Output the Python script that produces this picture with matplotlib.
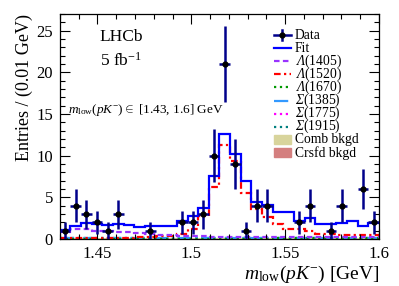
import numpy as np
import matplotlib
matplotlib.use("Agg")
import matplotlib.pyplot as plt
from matplotlib.patches import Rectangle

plt.rcParams['font.family'] = ['Liberation Serif', 'DejaVu Serif']
plt.rcParams['mathtext.fontset'] = 'custom'
plt.rcParams['mathtext.rm'] = 'Liberation Serif'
plt.rcParams['mathtext.it'] = 'Liberation Serif:italic'
plt.rcParams['mathtext.bf'] = 'Liberation Serif:bold'
# italic greek capitals through the sf slot
plt.rcParams['mathtext.sf'] = 'Liberation Serif:italic'

# binning: 30 bins between 1.43 and 1.6 GeV
lo, hi, nbins = 1.43, 1.6, 30
edges = np.linspace(lo, hi, nbins + 1)
centers = 0.5 * (edges[1:] + edges[:-1])

data = [1, 4, 3, 2, 1, 3, 0, 0, 1, 0, 0, 2, 2, 3, 10, 21, 9, 1, 4, 4,
        0, 0, 2, 4, 0, 1, 4, 0, 6, 2]
fit = [1.1, 1.6, 1.9, 1.8, 1.75, 1.8, 1.75, 1.5, 1.6, 1.6, 1.6, 2.2, 2.8, 3.7,
       7.6, 12.6, 10.2, 7.0, 4.4, 4.1, 3.2, 3.2, 2.2, 2.5, 1.8, 1.8, 1.9, 2.2,
       1.6, 1.9]
lam1405 = [0.9, 1.2, 1.2, 1.0, 1.0, 0.8, 0.8, 0.7, 0.6, 0.5, 0.45, 0.4, 0.35,
           0.35, 0.3, 0.3, 0.3, 0.3, 0.3, 0.3, 0.3, 0.25, 0.25, 0.25, 0.25,
           0.25, 0.25, 0.25, 0.2, 0.2]
lam1520 = [0.1, 0.1, 0.1, 0.1, 0.1, 0.15, 0.15, 0.2, 0.25, 0.35, 0.4, 0.6, 1.2,
           2.8, 6.3, 11.3, 9.4, 5.5, 3.6, 2.6, 1.8, 1.2, 1.2, 1.0, 0.6, 0.6,
           0.5, 0.5, 0.5, 0.5]
lam1670 = [0.05] * 20 + [0.08] * 10
sig1385 = [0.15] * 10 + [0.12] * 10 + [0.1] * 10
sig1775 = [0.06] * 30
sig1915 = [0.08] * 30
comb = [0.12] * 30
crsfd = [0.06] * 30

# (label, colour, linestyle) for the line components
components = [
    ('Fit', '#0000ff', '-', fit),
    (r'$\mathsf{\Lambda}$(1405)', '#9933ff', (0, (2.5, 1.5)), lam1405),
    (r'$\mathsf{\Lambda}$(1520)', '#ff0000', (0, (3, 1.5, 1, 1.5)), lam1520),
    (r'$\mathsf{\Lambda}$(1670)', '#009900', ':', lam1670),
    (r'$\mathsf{\Sigma}$(1385)', '#3399ff', '-.', sig1385),
    (r'$\mathsf{\Sigma}$(1775)', '#ff00ff', ':', sig1775),
    (r'$\mathsf{\Sigma}$(1915)', '#007f7f', ':', sig1915),
]
fills = [('Comb bkgd', '#d8d49c'), ('Crsfd bkgd', '#d47f7f')]

fig = plt.figure(figsize=(3.99, 2.86), dpi=100)
ax = fig.add_axes([0.150, 0.164, 0.800, 0.787])

# filled backgrounds
ax.stairs(np.array(comb) + np.array(crsfd), edges, fill=True, color=fills[0][1])
ax.stairs(crsfd, edges, fill=True, color=fills[1][1])

for lab, col, ls, vals in components[::-1]:
    ax.stairs(vals, edges, baseline=None, color=col, linestyle=ls, lw=1.6)

d = np.array(data, dtype=float)
m = d > 0
ax.errorbar(centers[m], d[m], yerr=np.sqrt(d[m]),
            xerr=(hi - lo) / nbins / 2, fmt='o', ms=3.5, mfc='black',
            mec='black', ecolor='#00008b', elinewidth=1.8, capsize=0,
            zorder=5)

ax.set_xlim(lo, hi)
ax.set_ylim(0, 27)
ax.set_xticks([1.45, 1.5, 1.55, 1.6])
ax.set_xticklabels(['1.45', '1.5', '1.55', '1.6'])
ax.set_xticks(np.arange(1.43, 1.6001, 0.01), minor=True)
ax.set_yticks([0, 5, 10, 15, 20, 25])
ax.set_yticks(np.arange(0, 27.5, 1), minor=True)
ax.tick_params(which='both', direction='in', top=True, right=True,
               labelsize=12, width=0.8, pad=5)
ax.tick_params(which='major', length=7)
ax.tick_params(which='minor', length=3.5)
for s in ax.spines.values():
    s.set_linewidth(0.9)

ax.set_ylabel('Entries / (0.01 GeV)', fontsize=13, labelpad=2, loc='top')
ax.set_xlabel(r'$m_{\rm low}(pK^{-})$ [GeV]', fontsize=14, loc='right',
              labelpad=1)

ax.text(0.125, 0.88, 'LHCb', transform=ax.transAxes, fontsize=12.5)
ax.text(0.125, 0.77, r'5 fb$^{\mathregular{-1}}$', transform=ax.transAxes,
        fontsize=12.5)
ax.text(0.025, 0.56, r'$m_{\rm low}(pK^{-}) \in$ [1.43, 1.6] GeV',
        transform=ax.transAxes, fontsize=9.5)

# legend drawn by hand, ROOT style rows
x0, x1, xt = 0.671, 0.724, 0.736
row_y = [(239 - (35 + 13.1 * i)) / 225 for i in range(10)]
tr = ax.transAxes
xm = 0.5 * (x0 + x1)
ax.plot([x0, x1], [row_y[0]] * 2, color='#00008b', lw=1.8, transform=tr,
        clip_on=False)
ax.plot([xm, xm], [row_y[0] - 0.022, row_y[0] + 0.022], color='#00008b',
        lw=1.8, transform=tr, clip_on=False)
ax.plot([xm], [row_y[0]], 'o', ms=3.5, color='black', transform=tr,
        clip_on=False)
ax.text(xt, row_y[0], 'Data', transform=tr, fontsize=9.8, va='center')
for i, (lab, col, ls, vals) in enumerate(components, start=1):
    ax.plot([x0, x1], [row_y[i]] * 2, color=col, linestyle=ls, lw=1.6,
            transform=tr, clip_on=False)
    ax.text(xt, row_y[i], lab, transform=tr, fontsize=9.8, va='center')
for i, (lab, col) in enumerate(fills, start=8):
    ax.add_patch(Rectangle((x0, row_y[i] - 0.02), x1 - x0, 0.04, color=col,
                           transform=tr, clip_on=False))
    ax.text(xt, row_y[i], lab, transform=tr, fontsize=9.8, va='center')

fig.savefig('out.png', dpi=100)
